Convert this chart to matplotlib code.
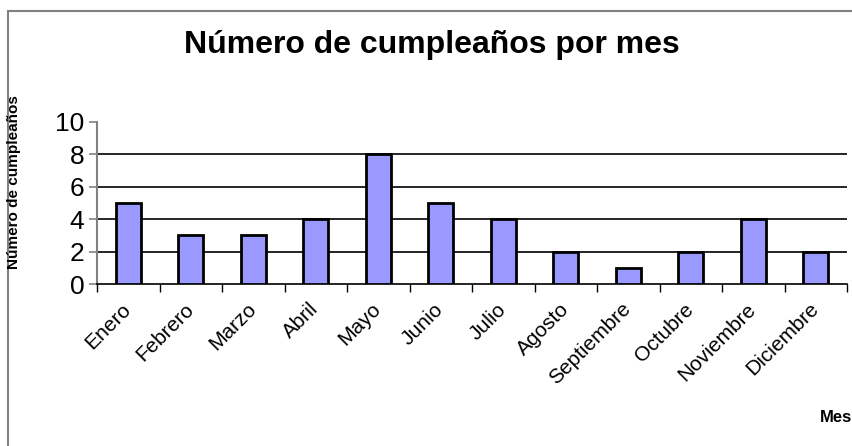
import matplotlib.pyplot as plt
import numpy as np
from matplotlib.patches import Rectangle

meses = ['Enero', 'Febrero', 'Marzo', 'Abril', 'Mayo', 'Junio', 'Julio',
         'Agosto', 'Septiembre', 'Octubre', 'Noviembre', 'Diciembre']
cumples = [5, 3, 3, 4, 8, 5, 4, 2, 1, 2, 4, 2]
yticks = [0, 2, 4, 6, 8, 10]

plt.rcParams['font.family'] = ['Liberation Sans', 'DejaVu Sans']

fig = plt.figure(figsize=(8.52, 4.46), dpi=100)
W, H = 852, 446
# plot area: x 97..847, y 122..284 (pixels)
ax = fig.add_axes([97 / W, 1 - 284 / H, 750 / W, 162 / H])

x = np.arange(len(meses))
ax.bar(x, cumples, width=0.4, color='#9999FF', edgecolor='black',
       linewidth=2, zorder=3)

ax.set_xlim(-0.5, len(meses) - 0.5)
ax.set_ylim(0, 10)
ax.set_yticks(yticks)
ax.set_yticklabels([str(v) for v in yticks], fontsize=19)
for v in yticks[1:-1]:
    ax.axhline(v, color='black', linewidth=1.2, zorder=1)

ax.set_xticks(np.arange(len(meses) + 1) - 0.5)
ax.set_xticklabels([])
ax.set_xticks(x, minor=True)
ax.set_xticklabels(meses, minor=True, rotation=45, ha='right', va='center',
                   rotation_mode='anchor', fontsize=15)
ax.tick_params(axis='x', which='minor', length=0, pad=16)
ax.tick_params(axis='x', which='major', length=6, direction='out',
               color='black', width=1)
ax.tick_params(axis='y', length=6, direction='out', color='#808080',
               width=1.2, pad=3)

for s in ['top', 'right']:
    ax.spines[s].set_visible(False)
ax.spines['left'].set_color('#808080')
ax.spines['left'].set_linewidth(1.5)
ax.spines['bottom'].set_color('black')
ax.spines['bottom'].set_linewidth(1.2)

fig.text(432 / W, 1 - 45 / H, 'Número de cumpleaños por mes', ha='center',
         va='center', fontsize=23, fontweight='bold')
fig.text(14 / W, 1 - 182 / H, 'Número de cumpleaños', rotation=90,
         ha='center', va='center', fontsize=11, fontweight='bold')
fig.text(836 / W, 1 - 417 / H, 'Mes', ha='center', va='center',
         fontsize=12, fontweight='bold')

# chart border
fig.patches.append(Rectangle((8 / W, -0.1), 1.2, 1 - 11 / H + 0.1,
                             transform=fig.transFigure, fill=False,
                             edgecolor='#808080', linewidth=1.5))

fig.savefig('out.png', dpi=100)
